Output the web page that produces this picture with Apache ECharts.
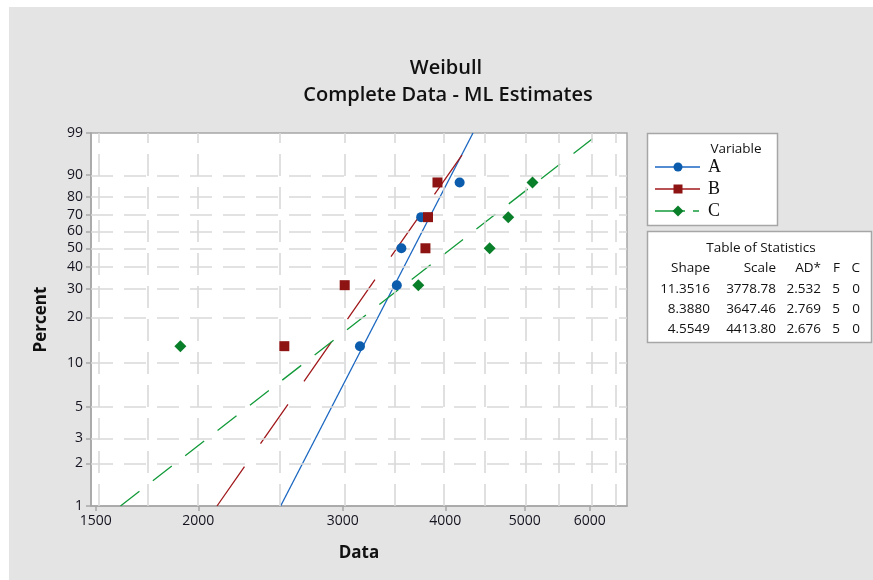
<!DOCTYPE html>
<html>
<head>
<meta charset="utf-8">
<script src="https://cdn.jsdelivr.net/npm/echarts@6/dist/echarts.min.js"></script>
<style>
  html, body { margin: 0; padding: 0; background: #fff; }
  #chart { width: 873px; height: 580px; }
</style>
</head>
<body>
<div id="chart"></div>
<script>
// Weibull probability plot: log(Data) on x, ln(-ln(1-p)) on y
const seriesNames = ['A', 'B', 'C'];
const plotPercents = [12.96, 31.48, 50, 68.52, 87.04];
const valuesA = [3148, 3491, 3536, 3738, 4164];
const valuesB = [2546, 3016, 3783, 3810, 3913];
const valuesC = [1902, 3708, 4530, 4773, 5109];

const shapes = [11.3516, 8.3880, 4.5549];
const scales = [3778.78, 3647.46, 4413.80];
const adStats = [2.532, 2.769, 2.676];
const failures = [5, 5, 5];
const censored = [0, 0, 0];

const xTickValues = [1500, 2000, 3000, 4000, 5000, 6000];
const xGridValues = [1500, 1750, 2000, 2500, 3000, 3500, 4000, 4500, 5000, 5500, 6000, 6500];
const yTickValues = [1, 2, 3, 5, 10, 20, 30, 40, 50, 60, 70, 80, 90, 99];
const xRange = [1480, 6660];
const yRange = [1, 99];

const colors = ['#0b5cad', '#8e1414', '#0a7f2a'];
const lineColors = ['#1a66c0', '#a0191c', '#139a3a'];

const tx = v => Math.log10(v);
const ty = p => Math.log(-Math.log(1 - p / 100));
const fromTy = w => 100 * (1 - Math.exp(-Math.exp(w)));

const allValues = [valuesA, valuesB, valuesC];
const symbols = ['circle', 'rect', 'diamond'];
const symbolSizes = [10, 10, 12];
const dashes = ['solid', [48, 28], [24, 17]];

// fitted line from the shape/scale estimates, spanning the percent range
function fitLine(i) {
  return yRange.map(p => {
    const x = scales[i] * Math.exp(ty(p) / shapes[i]);
    return [tx(x), ty(p)];
  });
}

const gridStyle = { color: '#d9d9d9', width: 1.6, type: [22, 11] };

const series = [];
series.push({
  type: 'scatter', data: [], z: 1, silent: true,
  markLine: {
    silent: true, symbol: ['none', 'none'], label: { show: false },
    lineStyle: gridStyle, animation: false,
    data: xGridValues.map(v => ({ xAxis: tx(v) }))
      .concat(yTickValues.filter(p => p > yRange[0] && p < yRange[1]).map(p => ({ yAxis: ty(p) })))
  }
});
seriesNames.forEach((name, i) => {
  series.push({
    name: name, type: 'line', data: fitLine(i), showSymbol: false, z: 3,
    lineStyle: { color: lineColors[i], width: 1.3, type: dashes[i] }
  });
});
seriesNames.forEach((name, i) => {
  series.push({
    name: name, type: 'scatter', z: 5,
    symbol: symbols[i], symbolSize: symbolSizes[i],
    itemStyle: { color: colors[i], opacity: 1 },
    data: allValues[i].map((v, k) => [tx(v), ty(plotPercents[k])])
  });
});

const labelFont = { fontFamily: 'Open Sans', fontSize: 14, color: '#141420' };
const textFont = 'Open Sans';

// legend and statistics table
const graphic = [
  { type: 'rect', shape: { x: 0, y: 0, width: 873, height: 7 }, style: { fill: '#fff' }, silent: true },
  { type: 'rect', shape: { x: 0, y: 0, width: 9, height: 580 }, style: { fill: '#fff' }, silent: true },
  { type: 'text', style: { text: 'Weibull', x: 446, y: 68, align: 'center', verticalAlign: 'middle',
      fontFamily: textFont, fontSize: 20, fontWeight: 600, fill: '#111' } },
  { type: 'text', style: { text: 'Complete Data - ML Estimates', x: 448, y: 95, align: 'center', verticalAlign: 'middle',
      fontFamily: textFont, fontSize: 20, fontWeight: 600, fill: '#111' } },
  { type: 'rect', shape: { x: 647.5, y: 133.5, width: 130, height: 92 },
    style: { fill: '#fff', stroke: '#a6a6a6', lineWidth: 1.5 } },
  { type: 'text', style: { text: 'Variable', x: 736, y: 149, align: 'center', verticalAlign: 'middle',
      fontFamily: textFont, fontSize: 13.5, fill: '#111' } },
  { type: 'rect', shape: { x: 647.5, y: 231.5, width: 224, height: 111 },
    style: { fill: '#fff', stroke: '#a6a6a6', lineWidth: 1.5 } },
  { type: 'text', style: { text: 'Table of Statistics', x: 761, y: 248, align: 'center', verticalAlign: 'middle',
      fontFamily: textFont, fontSize: 13.5, fill: '#111' } }
];

const legendRows = [167, 189, 211];
seriesNames.forEach((name, i) => {
  const y = legendRows[i];
  if (i === 2) {
    graphic.push({ type: 'line', shape: { x1: 655, y1: y, x2: 685, y2: y }, style: { stroke: lineColors[i], lineWidth: 1.5 } });
    graphic.push({ type: 'line', shape: { x1: 693, y1: y, x2: 699, y2: y }, style: { stroke: lineColors[i], lineWidth: 1.5 } });
  } else {
    graphic.push({ type: 'line', shape: { x1: 655, y1: y, x2: 700, y2: y }, style: { stroke: lineColors[i], lineWidth: 1.5 } });
  }
  let marker;
  if (i === 0) marker = { type: 'circle', shape: { cx: 678, cy: y, r: 4.5 } };
  else if (i === 1) marker = { type: 'rect', shape: { x: 673.5, y: y - 4.5, width: 9, height: 9 } };
  else marker = { type: 'polygon', shape: { points: [[678, y - 5.5], [683.5, y], [678, y + 5.5], [672.5, y]] } };
  marker.style = { fill: colors[i] };
  graphic.push(marker);
  graphic.push({ type: 'text', style: { text: name, x: 708, y: y, verticalAlign: 'middle',
      fontFamily: 'Liberation Serif', fontSize: 18, fill: '#111' } });
});

const colRight = [710, 776, 821, 840, 860];
const headers = ['Shape', 'Scale', 'AD*', 'F', 'C'];
headers.forEach((h, c) => {
  graphic.push({ type: 'text', style: { text: h, x: colRight[c], y: 268, align: 'right', verticalAlign: 'middle',
      fontFamily: textFont, fontSize: 13.5, fill: '#111' } });
});
const rowY = [289, 309.5, 329];
seriesNames.forEach((name, i) => {
  const cells = [shapes[i].toFixed(4), scales[i].toFixed(2), adStats[i].toFixed(3), String(failures[i]), String(censored[i])];
  cells.forEach((t, c) => {
    graphic.push({ type: 'text', style: { text: t, x: colRight[c], y: rowY[i], align: 'right', verticalAlign: 'middle',
        fontFamily: textFont, fontSize: 13.5, fill: '#111' } });
  });
});

const chart = echarts.init(document.getElementById('chart'), null, { renderer: 'canvas' });
chart.setOption({
  backgroundColor: '#e4e4e4',
  animation: false,
  grid: { left: 91, top: 133, width: 536, height: 373, show: true, backgroundColor: '#fff',
          borderColor: '#a6a6a6', borderWidth: 1.5 },
  xAxis: {
    type: 'value', min: tx(xRange[0]), max: tx(xRange[1]),
    name: 'Data', nameLocation: 'middle', nameGap: 39,
    nameTextStyle: { fontFamily: textFont, fontSize: 17, fontWeight: 'bold', color: '#111' },
    axisLine: { onZero: false, lineStyle: { color: '#a6a6a6', width: 1.5 } },
    axisTick: { show: true, inside: false, length: 5, lineStyle: { color: '#a6a6a6', width: 1.5 },
                customValues: xTickValues.map(tx) },
    axisLabel: Object.assign({ margin: 8, customValues: xTickValues.map(tx),
      formatter: v => String(Math.round(Math.pow(10, v) / 10) * 10) }, labelFont),
    splitLine: { show: false }
  },
  yAxis: {
    type: 'value', min: ty(yRange[0]), max: ty(yRange[1]),
    name: 'Percent', nameLocation: 'middle', nameGap: 41,
    nameTextStyle: { fontFamily: textFont, fontSize: 17, fontWeight: 'bold', color: '#111' },
    axisLine: { show: true, onZero: false, lineStyle: { color: '#a6a6a6', width: 1.5 } },
    axisTick: { show: true, inside: false, length: 5, lineStyle: { color: '#a6a6a6', width: 1.5 },
                customValues: yTickValues.map(ty) },
    axisLabel: Object.assign({ margin: 8, customValues: yTickValues.map(ty),
      formatter: v => String(Math.round(fromTy(v))) }, labelFont),
    splitLine: { show: false }
  },
  series: series,
  graphic: graphic
});
</script>
</body>
</html>
